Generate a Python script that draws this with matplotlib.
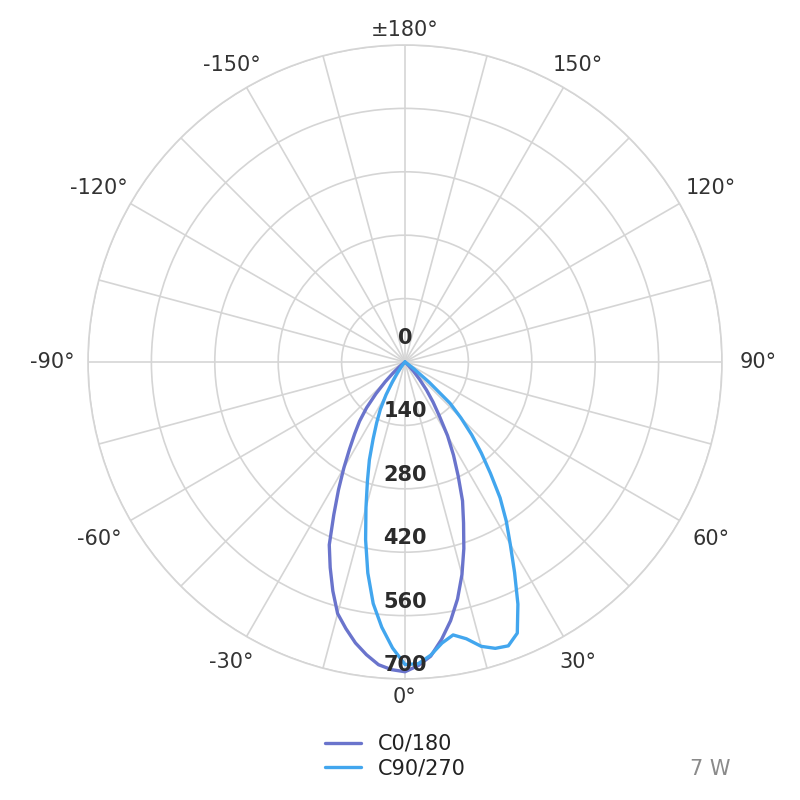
import numpy as np
import matplotlib.pyplot as plt

# sample angles (deg) away from nadir, 0 .. 60 in 2.5 steps
step_deg = np.arange(0, 60.1, 2.5)

# C0/180 plane: left half (negative angles) and right half (positive angles)
c0_left = [684, 680, 671, 652, 630, 603, 575, 530, 483, 437, 372, 318, 270,
           228, 194, 165, 132, 95, 62, 35, 15, 4, 0, 0, 0]
c0_right = [684, 671, 652, 618, 580, 536, 486, 432, 378, 332, 278, 232, 188,
            141, 108, 78, 50, 28, 12, 4, 0, 0, 0, 0, 0]

# C90/270 plane
c90_left = [668, 632, 588, 538, 473, 402, 333, 276, 230, 184, 148, 118, 84,
            52, 30, 15, 5, 0, 0, 0, 0, 0, 0, 0, 0]
c90_right = [668, 667, 650, 626, 612, 626, 650, 663, 667, 648, 590, 524, 465,
             416, 366, 310, 262, 218, 175, 135, 70, 25, 5, 0, 0]

ring_values = [140, 280, 420, 560, 700]
angle_ticks = [-150, -120, -90, -60, -30, 0, 30, 60, 90, 120, 150, 180]
series_names = ['C0/180', 'C90/270']
series_colors = ['#6a74cc', '#42a6ee']
power_note = '7 W'


def full_curve(left, right):
    theta = np.concatenate([-step_deg[::-1][:-1], step_deg])
    vals = np.concatenate([np.array(left)[::-1][:-1], np.array(right)])
    return np.deg2rad(theta), vals


fig = plt.figure(figsize=(8, 8), dpi=100)
R_PX = 317.0
cx, cy = 405.0, 362.0
ax = fig.add_axes([(cx - R_PX) / 800, (800 - cy - R_PX) / 800,
                   2 * R_PX / 800, 2 * R_PX / 800], projection='polar')
ax.set_theta_zero_location('S')
ax.set_theta_direction(1)
ax.set_ylim(0, 700)

grid_col = '#d5d5d5'
ax.set_xticks(np.deg2rad(np.arange(0, 360, 15)))
ax.set_xticklabels([])
ax.set_yticks(ring_values)
ax.set_yticklabels([])
ax.tick_params(length=0)
ax.grid(True, color=grid_col, lw=1.2)
ax.spines['polar'].set_color(grid_col)
ax.spines['polar'].set_linewidth(1.2)

curves = [full_curve(c0_left, c0_right), full_curve(c90_left, c90_right)]
handles = []
for (th, v), name, col in zip(curves, series_names, series_colors):
    h, = ax.plot(th, v, color=col, lw=2.4, label=name,
                 solid_joinstyle='round', solid_capstyle='round')
    handles.append(h)

# angle labels around the circle
px2data = 700 / R_PX
for a in angle_ticks:
    t = np.deg2rad(a)
    lab = '\u00b1180\u00b0' if a == 180 else f'{a}\u00b0'
    r_px = R_PX + 11 + 0.5 * abs(np.sin(t)) * 50 + 0.5 * abs(np.cos(t)) * 14
    shift = -3 if np.cos(t) < -0.1 else 0
    ax.annotate(lab, xy=(t, r_px * px2data), xytext=(0, shift),
                textcoords='offset pixels', ha='center', va='center',
                fontsize=15, color='#333333', annotation_clip=False)

# radial value labels along 0 deg
for v in ring_values:
    ax.text(0, v - 31, str(v), ha='center', va='center', fontsize=15,
            fontweight='bold', color='#2b2b2b', zorder=5)
ax.text(np.pi, 53, '0', ha='center', va='center', fontsize=15,
        fontweight='bold', color='#2b2b2b', zorder=5)

fig.legend(handles=handles, labels=series_names, loc='center left',
           bbox_to_anchor=(325 / 800, 1 - 756 / 800), frameon=False,
           fontsize=15, handlelength=1.75, handletextpad=0.8,
           labelspacing=0.2, borderpad=0, borderaxespad=0, labelcolor='#222222')

fig.text(730 / 800, 1 - 769 / 800, power_note, ha='right', va='center',
         fontsize=15, color='#8a8a8a')

fig.savefig('out.png', dpi=100)
